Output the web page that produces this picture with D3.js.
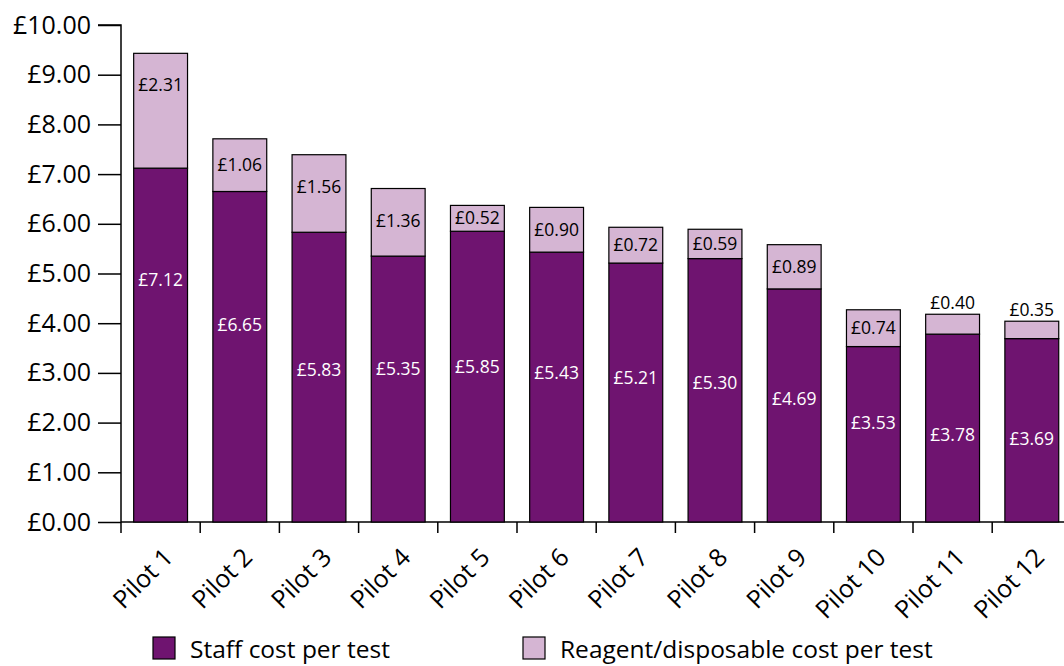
<!DOCTYPE html>
<html><head><meta charset="utf-8">
<script src="https://cdn.jsdelivr.net/npm/d3@7"></script>
<style>body{margin:0;background:#fff}svg{display:block}text{font-family:"Open Sans",sans-serif}</style>
</head><body>
<svg id="c" width="1064" height="666"></svg>
<script>
const categories = ["Pilot 1","Pilot 2","Pilot 3","Pilot 4","Pilot 5","Pilot 6","Pilot 7","Pilot 8","Pilot 9","Pilot 10","Pilot 11","Pilot 12"];
const staffCost = [7.12,6.65,5.83,5.35,5.85,5.43,5.21,5.30,4.69,3.53,3.78,3.69];
const reagentCost = [2.31,1.06,1.56,1.36,0.52,0.90,0.72,0.59,0.89,0.74,0.40,0.35];
const yTicks = [0,1,2,3,4,5,6,7,8,9,10];
const seriesNames = ["Staff cost per test","Reagent/disposable cost per test"];
// value (in £ on the y scale) at which each staff label sits, as placed in the original
const staffLabelAt = [4.87,3.96,3.06,3.08,3.12,3.00,2.90,2.80,2.47,1.99,1.75,1.67];
const colors = ["#6f1470","#d5b5d3"];

const svg = d3.select("#c");
const x0 = 121, y0 = 522;
const x = d3.scaleBand().domain(categories).range([x0, x0 + 79.2*12]).paddingInner(0.32).paddingOuter(0.16);
const y = d3.scaleLinear().domain([0,10]).range([y0, 25]);
const fmt = v => "£" + v.toFixed(2);

// y axis
const ya = svg.append("g").attr("transform",`translate(${x0},0)`)
  .call(d3.axisLeft(y).tickValues(yTicks).tickFormat(fmt).tickSize(23).tickPadding(7));
ya.select(".domain").attr("stroke","#000").attr("stroke-width",1.5).attr("d",`M-23,${y(10)}H0V${y0}`);
ya.selectAll(".tick line").attr("stroke","#000").attr("stroke-width",1.5);
ya.selectAll(".tick text").attr("font-size",25).attr("fill","#000").style("font-family","Open Sans");

// x axis line & ticks at category boundaries
const xa = svg.append("g");
xa.append("line").attr("x1",x0).attr("x2",1064).attr("y1",y0).attr("y2",y0).attr("stroke","#000").attr("stroke-width",1.5);
const bounds = categories.map(c => x(c) - x.step()*x.paddingOuter());
xa.selectAll("line.t").data(bounds).join("line").attr("class","t")
  .attr("x1",d=>d).attr("x2",d=>d).attr("y1",y0).attr("y2",y0+11).attr("stroke","#000").attr("stroke-width",1.5);

// bars
const data = categories.map((c,i)=>({c, s:staffCost[i], r:reagentCost[i], ls:staffLabelAt[i]}));
const g = svg.append("g");
g.selectAll("rect.s").data(data).join("rect").attr("class","s")
  .attr("x",d=>x(d.c)).attr("width",x.bandwidth()).attr("y",d=>y(d.s)).attr("height",d=>y(0)-y(d.s))
  .attr("fill",colors[0]).attr("stroke","#000").attr("stroke-width",1.2);
g.selectAll("rect.r").data(data).join("rect").attr("class","r")
  .attr("x",d=>x(d.c)).attr("width",x.bandwidth()).attr("y",d=>y(d.s+d.r)).attr("height",d=>y(d.s)-y(d.s+d.r))
  .attr("fill",colors[1]).attr("stroke","#000").attr("stroke-width",1.2);

// staff labels
g.selectAll("text.s").data(data).join("text").attr("class","s")
  .attr("x",d=>x(d.c)+x.bandwidth()/2).attr("y",d=>y(d.ls)).attr("dy","0.35em")
  .attr("text-anchor","middle").attr("font-size",17.5).attr("fill","#fff").text(d=>fmt(d.s));
// reagent labels
const small = d => y(d.s)-y(d.s+d.r) < 24;
g.selectAll("text.r").data(data).join("text").attr("class","r")
  .attr("x",d=>x(d.c)+x.bandwidth()/2)
  .attr("y",d=>{
    const top = y(d.s+d.r), bot = y(d.s);
    if (small(d)) return top - 5;
    return Math.min((top+bot)/2, top+32);
  })
  .attr("dy",d=> small(d) ? "0" : "0.35em")
  .attr("text-anchor","middle").attr("font-size",17.5).attr("fill","#000").text(d=>fmt(d.r));

// x labels
svg.append("g").selectAll("text").data(categories).join("text")
  .attr("transform",d=>`translate(${x(d)+x.bandwidth()/2+14},${y0+37}) rotate(-45)`)
  .attr("text-anchor","end").attr("font-size",25).attr("fill","#000").text(d=>d);

// legend
const lg = svg.append("g");
const lx = [153, 523];
seriesNames.forEach((n,i)=>{
  lg.append("rect").attr("x",lx[i]).attr("y",637).attr("width",22).attr("height",22)
    .attr("fill",colors[i]).attr("stroke","#000").attr("stroke-width",1.2);
  lg.append("text").attr("x",lx[i]+37).attr("y",658).attr("font-size",24.5).attr("fill","#000").text(n);
});
</script>
</body></html>
